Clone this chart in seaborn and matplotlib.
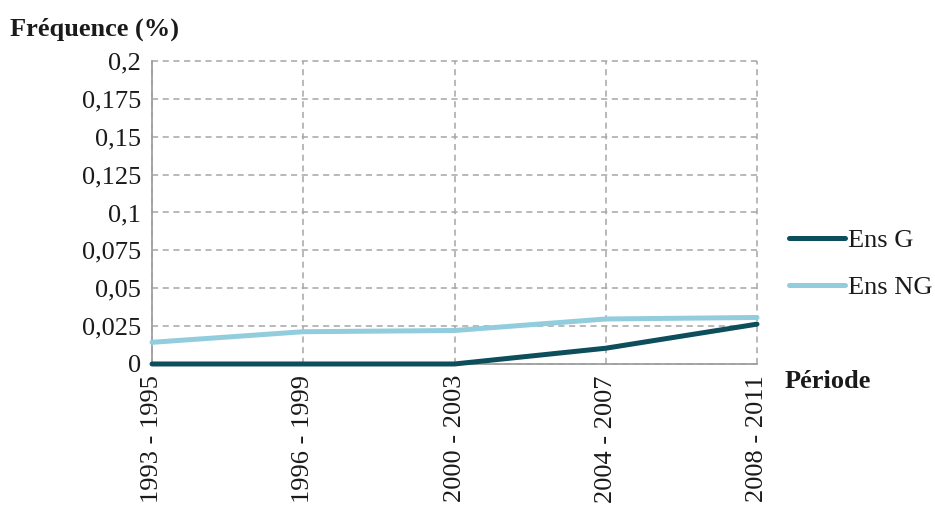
import matplotlib
matplotlib.use("Agg")
import matplotlib.pyplot as plt
import matplotlib.ticker as ticker
from matplotlib.lines import Line2D
import seaborn as sns
import pandas as pd

periods = ["1993 - 1995", "1996 - 1999", "2000 - 2003", "2004 - 2007", "2008 - 2011"]
ens_g = [0.0, 0.0, 0.0, 0.0104, 0.0263]
ens_ng = [0.0143, 0.0213, 0.0221, 0.0297, 0.0307]
series_names = ["Ens G", "Ens NG"]
colors = ["#0c4e5b", "#92cddd"]

df = pd.DataFrame({
    "x": list(range(len(periods))) * 2,
    "value": ens_g + ens_ng,
    "serie": [series_names[0]] * len(periods) + [series_names[1]] * len(periods),
})

sns.set_style("white")
plt.rcParams["font.family"] = ["Liberation Serif", "DejaVu Serif"]
fs = 19

fig = plt.figure(figsize=(9.35, 5.08), dpi=100)
ax = fig.add_axes([0.1626, 0.2835, 0.8096 - 0.1626, 0.8799 - 0.2835])

sns.lineplot(data=df, x="x", y="value", hue="serie", palette=colors,
             linewidth=3.6, ax=ax, legend=False)
for ln in ax.get_lines():
    ln.set_clip_on(False)
    ln.set_solid_capstyle("round")
    ln.set_zorder(5)

ax.set_xlim(0, len(periods) - 1)
ax.set_ylim(0, 0.2)
ax.set_xticks(range(len(periods)))
ax.set_xticklabels(periods, rotation=90, fontsize=fs)
ax.yaxis.set_major_locator(ticker.MultipleLocator(0.025))
ax.yaxis.set_major_formatter(ticker.FuncFormatter(
    lambda v, p: ("%g" % round(v, 3)).replace(".", ",")))
ax.tick_params(axis="y", labelsize=fs)

ax.grid(True, color="#a6a6a6", linestyle=(0, (4, 3)), linewidth=1.1)
for gl in ax.get_xgridlines() + ax.get_ygridlines():
    gl.set_clip_on(False)
ax.set_axisbelow(True)
for s in ["top", "right"]:
    ax.spines[s].set_visible(False)
for s in ["left", "bottom"]:
    ax.spines[s].set_color("#a0a0a0")
    ax.spines[s].set_linewidth(1.3)
ax.tick_params(axis="both", which="major", direction="inout", length=10,
               width=1.3, color="#a0a0a0", pad=3, labelcolor="#1a1a1a")

ax.set_xlabel("")
ax.set_ylabel("")
fig.text(0.011, 0.943, "Fréquence (%)", fontsize=fs, fontweight="bold", color="#1a1a1a", va="center")
fig.text(0.839, 0.249, "Période", fontsize=fs, fontweight="bold", color="#1a1a1a", va="center")

handles = [Line2D([0], [0], color=c, lw=3.6, solid_capstyle="round") for c in colors]
leg = ax.legend(handles, series_names, loc="center left", bbox_to_anchor=(1.035, 0.33),
                frameon=False, fontsize=fs, handlelength=2.15, handletextpad=0.1,
                labelspacing=0.88, borderaxespad=0)
for t in leg.get_texts():
    t.set_color("#1a1a1a")

fig.savefig("out.png", dpi=100)
